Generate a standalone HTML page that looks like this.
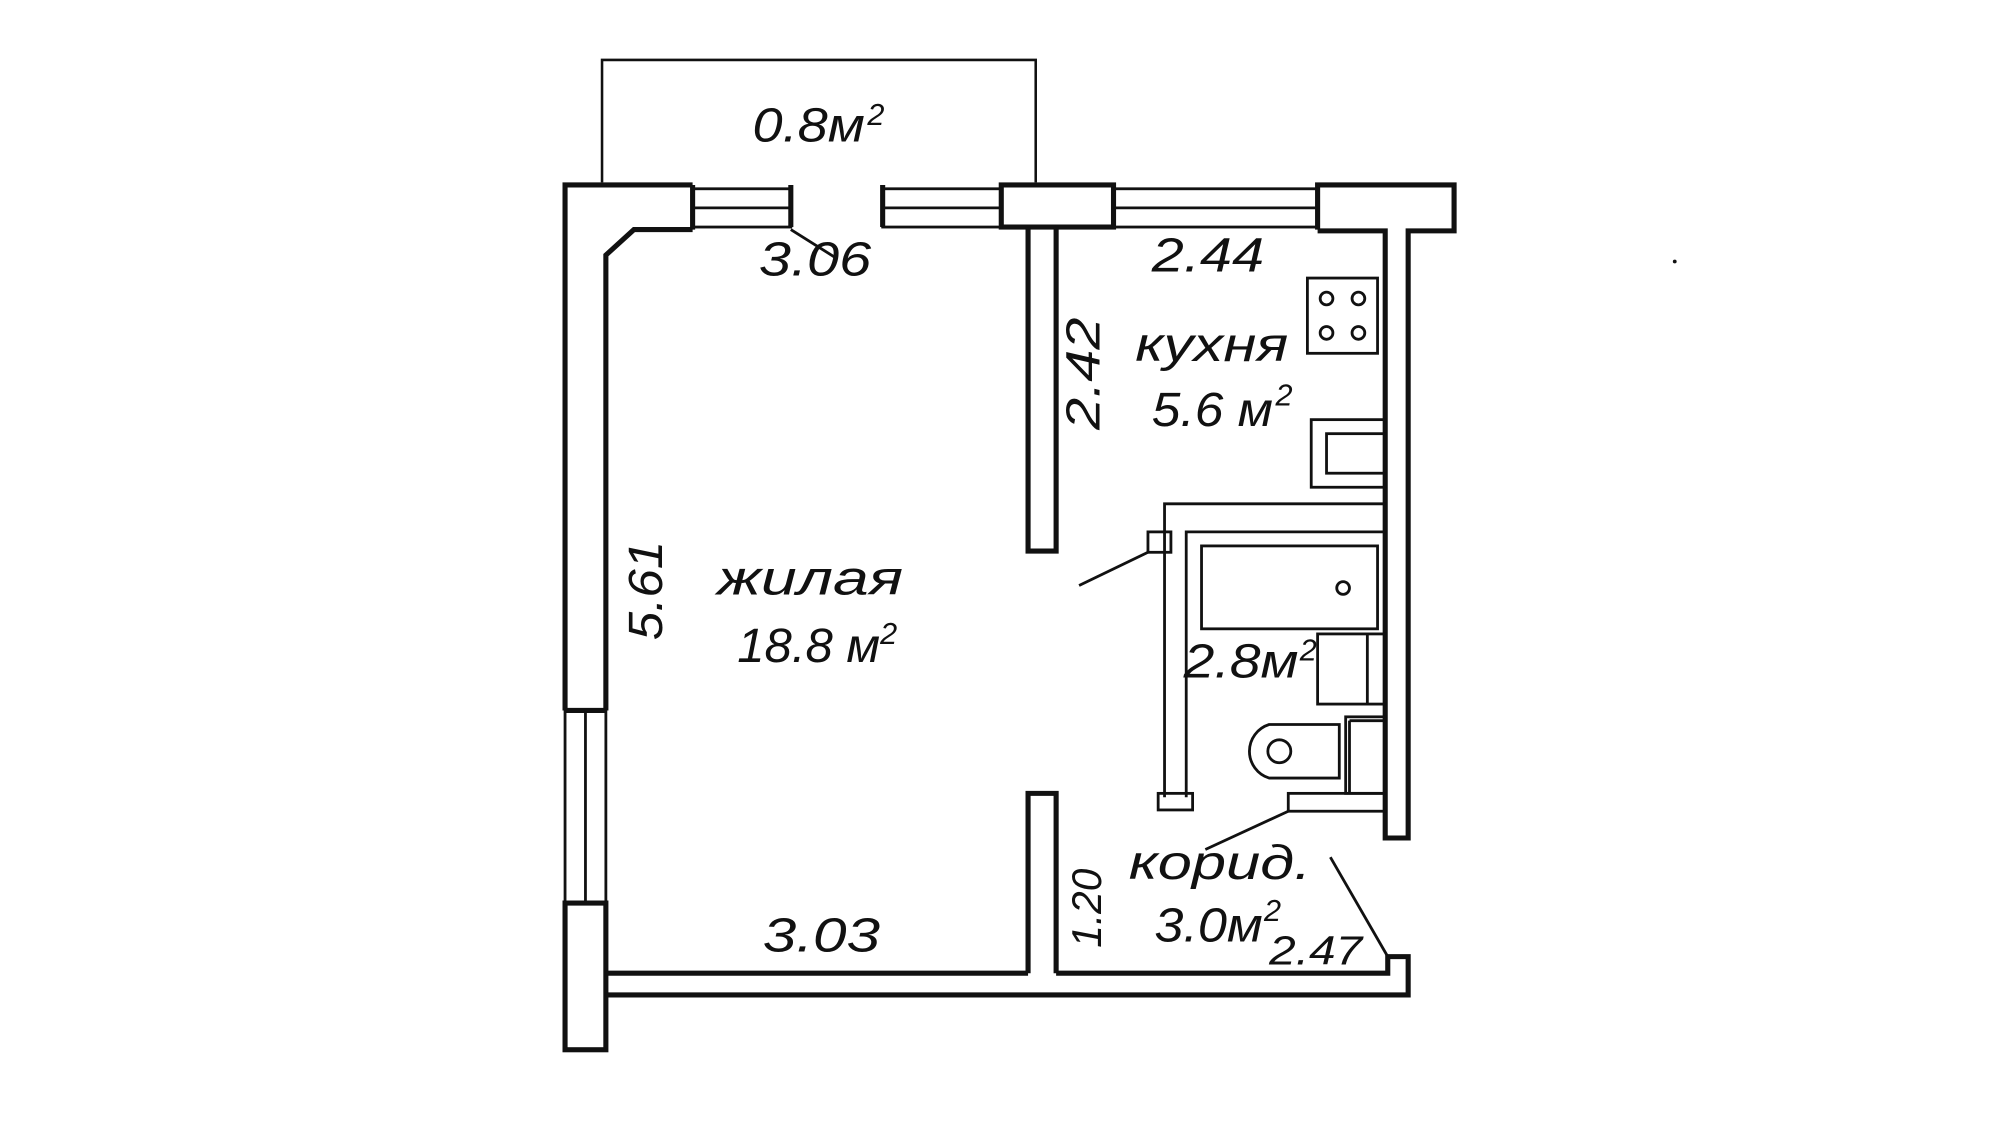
<!DOCTYPE html>
<html><head><meta charset="utf-8"><style>
html,body{margin:0;padding:0;background:#fff;}
svg{display:block;}
text{font-family:"Liberation Sans",sans-serif;font-style:italic;fill:#111;}
</style></head><body>
<svg width="2000" height="1125" viewBox="0 0 1568 882" xmlns="http://www.w3.org/2000/svg">
<g fill="none" stroke="#111" stroke-width="2">
<polyline points="472,143 472,47 812,47 812,143"/>
</g>
<g fill="none" stroke="#111" stroke-width="4" stroke-linejoin="miter">
<polyline points="443,557 443,145 543,145"/>
<polyline points="475,557 475,200 497,180 543,180"/>
<line x1="443" y1="557" x2="475" y2="557"/>
<line x1="543" y1="145" x2="543" y2="180"/>
<line x1="620" y1="145" x2="620" y2="178"/>
<line x1="692" y1="145" x2="692" y2="178"/>
<rect x="785" y="145" width="88" height="33"/>
<polyline points="1033,180 1033,145 1140,145 1140,181 1104,181 1104,657 1086,657 1086,181 1033,181"/>
<polyline points="806,178 806,432 828,432 828,178"/>
<polyline points="806,763 806,622 828,622 828,763"/>
<rect x="443" y="708" width="32" height="115"/>
<polyline points="475,763 806,763"/>
<polyline points="828,763 1088,763 1088,750 1104,750 1104,780 475,780"/>
</g>
<g fill="none" stroke="#111" stroke-width="2.2">
<rect x="543" y="148" width="77" height="30"/><line x1="543" y1="163" x2="620" y2="163"/>
<rect x="692" y="148" width="93" height="30"/><line x1="692" y1="163" x2="785" y2="163"/>
<rect x="873" y="148" width="160" height="30"/><line x1="873" y1="163" x2="1033" y2="163"/>
<rect x="443" y="557" width="32" height="151"/><line x1="459" y1="557" x2="459" y2="708"/>
<polyline points="913,625 913,395 1086,395"/>
<polyline points="930,625 930,417 1086,417"/>
<rect x="900" y="417" width="18" height="16"/>
<rect x="908" y="622" width="27" height="13"/>
<rect x="1010" y="622" width="76" height="14"/>
<rect x="942" y="428" width="138" height="65"/>
<circle cx="1053" cy="461" r="5"/>
<rect x="1033" y="497" width="53" height="55"/><line x1="1072" y1="497" x2="1072" y2="552"/>
<path d="M1050,568 L995,568 A22,22 0 0 0 995,610 L1050,610 Z"/>
<circle cx="1003" cy="589" r="9"/>
<rect x="1055" y="562" width="31" height="60"/><line x1="1058" y1="565" x2="1086" y2="565"/><line x1="1058" y1="565" x2="1058" y2="622"/>
<rect x="1025" y="218" width="55" height="59"/>
<circle cx="1040" cy="234" r="5"/><circle cx="1065" cy="234" r="5"/>
<circle cx="1040" cy="261" r="5"/><circle cx="1065" cy="261" r="5"/>
<rect x="1028" y="329" width="58" height="53"/>
<rect x="1040" y="340" width="46" height="31"/>
<line x1="620" y1="180" x2="655" y2="202"/>
<line x1="900" y1="433" x2="846" y2="459"/>
<line x1="1010" y1="636" x2="945" y2="666"/>
<line x1="1043" y1="672" x2="1088" y2="750"/>
</g>
<circle cx="1313" cy="205" r="1.5" fill="#111"/>
<g font-size="38">
<text x="590" y="111" textLength="88" lengthAdjust="spacingAndGlyphs">0.8м</text><text x="680" y="98" font-size="24">2</text>
<text x="595" y="216" textLength="88" lengthAdjust="spacingAndGlyphs">3.06</text>
<text x="903" y="213" textLength="88" lengthAdjust="spacingAndGlyphs">2.44</text>
<text x="890" y="283" textLength="120" lengthAdjust="spacingAndGlyphs">кухня</text>
<text x="903" y="334" textLength="95" lengthAdjust="spacingAndGlyphs">5.6 м</text><text x="1000" y="318" font-size="24">2</text>
<text transform="translate(862,293) rotate(-90)" text-anchor="middle" textLength="88" lengthAdjust="spacingAndGlyphs">2.42</text>
<text x="562" y="466" textLength="146" lengthAdjust="spacingAndGlyphs">жилая</text>
<text x="578" y="519" textLength="112" lengthAdjust="spacingAndGlyphs">18.8 м</text><text x="690" y="505" font-size="24">2</text>
<text transform="translate(519,463) rotate(-90)" text-anchor="middle" textLength="78" lengthAdjust="spacingAndGlyphs">5.61</text>
<text x="928" y="531" textLength="90" lengthAdjust="spacingAndGlyphs">2.8м</text><text x="1019" y="518" font-size="24">2</text>
<text x="885" y="689" textLength="143" lengthAdjust="spacingAndGlyphs">корид.</text>
<text x="905" y="738" textLength="85" lengthAdjust="spacingAndGlyphs">3.0м</text><text x="991" y="722" font-size="24">2</text>
<text x="995" y="756" font-size="32" textLength="73" lengthAdjust="spacingAndGlyphs">2.47</text>
<text transform="translate(863,712) rotate(-90)" text-anchor="middle" font-size="33" textLength="62" lengthAdjust="spacingAndGlyphs">1.20</text>
<text x="598" y="746" textLength="92" lengthAdjust="spacingAndGlyphs">3.03</text>
</g>
</svg>
</body></html>
